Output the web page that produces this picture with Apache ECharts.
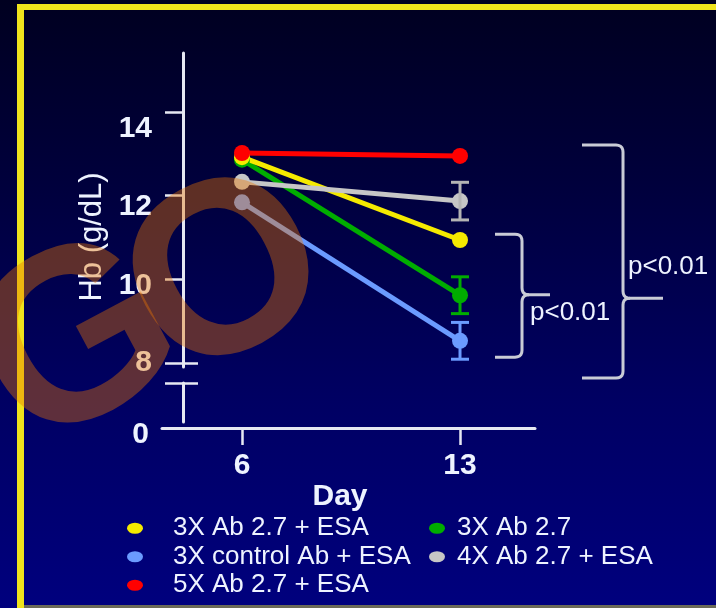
<!DOCTYPE html>
<html>
<head>
<meta charset="utf-8">
<script src="https://cdn.jsdelivr.net/npm/echarts@6/dist/echarts.min.js"></script>
<style>
  html, body { margin: 0; padding: 0; background: #000020; }
  #chart {
    width: 716px; height: 608px;
    background: linear-gradient(to bottom, #000020 0%, #00003c 30%, #000062 65%, #00007e 100%);
  }
</style>
</head>
<body>
<div id="chart"></div>
<script>
// Hb (g/dL) on study day 6 and day 13 for each treatment group
const days = [6, 13];
const groupNames = ['3X Ab 2.7 + ESA', '3X control Ab + ESA', '5X Ab 2.7 + ESA', '3X Ab 2.7', '4X Ab 2.7 + ESA'];
const hbYellow = [12.92, 10.94];   // 3X Ab 2.7 + ESA
const hbBlue   = [11.84, 8.53];    // 3X control Ab + ESA
const hbRed    = [13.02, 12.95];   // 5X Ab 2.7 + ESA
const hbGreen  = [12.86, 9.62];    // 3X Ab 2.7
const hbGray   = [12.33, 11.87];   // 4X Ab 2.7 + ESA
// error bars (day 13 only)
const errBlue  = [0, 0.44];
const errGreen = [0, 0.44];
const errGray  = [0, 0.45];
// axis ticks
const hbTicks = [8, 10, 12, 14];
const hbZeroTick = [0];
const dayTicks = [6, 13];
// significance brackets (Hb span and pointer level)
const bracketTop = [11.08, 13.21];
const bracketBottom = [8.14, 7.64];
const bracketTip = [9.63, 9.55];
const bracketText = ['p<0.01', 'p<0.01'];

const FONT = '"Liberation Sans", Arial, Helvetica, sans-serif';
const TEXT = '#eef3ff';
const AXIS = '#e6e8f2';
const C = { yellow: '#f5ea00', blue: '#6b9bff', red: '#ff0000', green: '#00ad00', gray: '#c6c6c6' };

// axis scale: Hb 8 sits just above the broken lower stub
const yMin = 7.904, yMax = 15.411;
const lowMax = 0.932;
const xMin = 3.431, xMax = 15.408;

// per-label vertical drop of the Hb tick labels
const labelDrop = { 14: 17, 12: 11, 10: 6, 8: 0, 0: 13 };
const tickLabelRich = {};
Object.keys(labelDrop).forEach(k => {
  tickLabelRich['d' + k] = {
    fontSize: 30, fontWeight: 'bold', fontFamily: FONT, color: TEXT,
    padding: [labelDrop[k] * 2, 0, 0, 0]
  };
});
const hbLabel = v => '{d' + v + '|' + v + '}';

function lineSeries(name, values, color) {
  return {
    type: 'line', name, xAxisIndex: 0, yAxisIndex: 0,
    data: days.map((d, i) => [d, values[i]]),
    symbol: 'circle', symbolSize: 16, showSymbol: true,
    lineStyle: { color, width: 5 },
    itemStyle: { color },
    emphasis: { disabled: true },
    animation: false, z: 3
  };
}

function errorSeries(values, err, color) {
  return {
    type: 'custom', xAxisIndex: 0, yAxisIndex: 0,
    data: days.map((d, i) => [d, values[i], err[i]]).filter(r => r[2] > 0),
    renderItem: (params, api) => {
      const x = api.value(0), y = api.value(1), e = api.value(2);
      const hi = api.coord([x, y + e]);
      const lo = api.coord([x, y - e]);
      const w = 9;
      const st = { stroke: color, lineWidth: 3 };
      return {
        type: 'group',
        children: [
          { type: 'line', shape: { x1: hi[0], y1: hi[1], x2: lo[0], y2: lo[1] }, style: st },
          { type: 'line', shape: { x1: hi[0] - w, y1: hi[1], x2: hi[0] + w, y2: hi[1] }, style: st },
          { type: 'line', shape: { x1: lo[0] - w, y1: lo[1], x2: lo[0] + w, y2: lo[1] }, style: st }
        ]
      };
    },
    animation: false, z: 4, silent: true
  };
}

// bracket geometry, in pixels to the right of the day-13 column
const bracketLayout = [
  { arm: 35, bar: 62, tip: 90, textDx: 70, textDy: 18 },
  { arm: 122, bar: 163, tip: 203, textDx: 168, textDy: -31 }
];

function quad(p0, p1, p2, n) {
  const pts = [];
  for (let i = 1; i <= n; i++) {
    const t = i / n, u = 1 - t;
    pts.push([u * u * p0[0] + 2 * u * t * p1[0] + t * t * p2[0],
              u * u * p0[1] + 2 * u * t * p1[1] + t * t * p2[1]]);
  }
  return pts;
}

const bracketSeries = {
  type: 'custom', xAxisIndex: 0, yAxisIndex: 0, clip: false, silent: true,
  data: bracketTop.map((t, i) => [i, t, bracketBottom[i], bracketTip[i]]),
  renderItem: (params, api) => {
    const i = api.value(0);
    const L = bracketLayout[i];
    const base = api.coord([days[1], api.value(1)]);
    const x0 = base[0];
    const y1 = base[1];
    const y2 = api.coord([days[1], api.value(2)])[1];
    const ym = api.coord([days[1], api.value(3)])[1];
    const a = x0 + L.arm, X = x0 + L.bar, t = x0 + L.tip, r = 7;
    const upper = [[a, y1], [X - r, y1]]
      .concat(quad([X - r, y1], [X, y1], [X, y1 + r], 5))
      .concat([[X, ym - r]])
      .concat(quad([X, ym - r], [X, ym], [X + r, ym], 5))
      .concat([[t, ym]]);
    const lower = [[X + r, ym]]
      .concat(quad([X + r, ym], [X, ym], [X, ym + r], 5))
      .concat([[X, y2 - r]])
      .concat(quad([X, y2 - r], [X, y2], [X - r, y2], 5))
      .concat([[a, y2]]);
    const st = { stroke: '#c9cbd6', lineWidth: 3, fill: null };
    return {
      type: 'group',
      children: [
        { type: 'polyline', shape: { points: upper }, style: st },
        { type: 'polyline', shape: { points: lower }, style: st },
        {
          type: 'text', x: x0 + L.textDx, y: ym + L.textDy,
          style: {
            text: bracketText[i], fill: TEXT, font: '26px ' + FONT,
            align: 'left', verticalAlign: 'middle',
            textAlign: 'left', textVerticalAlign: 'middle'
          }
        }
      ]
    };
  },
  animation: false, z: 2
};

const ellipseIcon = 'path://M0 5A5 5 0 1 1 10 5A5 5 0 1 1 0 5Z';
const legendText = { color: TEXT, fontSize: 26, fontFamily: FONT, lineHeight: 28.5 };

// translucent "GO" stamp laid over the plot
const stampStyle = { font: 'bold 245px ' + FONT, fill: 'rgba(236, 118, 0, 0.4)', align: 'center', verticalAlign: 'middle', textAlign: 'center', textVerticalAlign: 'middle' };
const stampTilt = 0.49;

const chart = echarts.init(document.getElementById('chart'), null, { renderer: 'canvas' });

chart.setOption({
  animation: false,
  backgroundColor: 'transparent',
  textStyle: { fontFamily: FONT },
  grid: [
    { left: 162, right: 181, top: 53, bottom: 241, containLabel: false, outerBoundsMode: 'none' },
    { left: 162, right: 181, top: 383, bottom: 186, containLabel: false, outerBoundsMode: 'none' }
  ],
  xAxis: [
    { gridIndex: 0, type: 'value', min: xMin, max: xMax, show: false },
    {
      gridIndex: 1, type: 'value', min: xMin, max: xMax, offset: 6,
      axisLine: { show: true, onZero: false, lineStyle: { color: AXIS, width: 3 } },
      axisTick: { show: true, customValues: dayTicks, length: 17, lineStyle: { color: AXIS, width: 2.5 } },
      axisLabel: {
        customValues: dayTicks, margin: 23, fontSize: 30, fontWeight: 'bold',
        fontFamily: FONT, color: TEXT, lineHeight: 30
      },
      splitLine: { show: false },
      name: 'Day', nameLocation: 'middle', nameGap: 47,
      nameTextStyle: { fontSize: 30, fontWeight: 'bold', fontFamily: FONT, color: TEXT, lineHeight: 30, padding: [0, 17, 0, 0] }
    }
  ],
  yAxis: [
    {
      gridIndex: 0, type: 'value', min: yMin, max: yMax, position: 'left', offset: -21,
      axisLine: { show: true, onZero: false, lineStyle: { color: AXIS, width: 3 } },
      axisTick: { show: true, customValues: hbTicks, length: 18, lineStyle: { color: AXIS, width: 2.5 } },
      axisLabel: { customValues: hbTicks, margin: 31, formatter: hbLabel, rich: tickLabelRich },
      splitLine: { show: false },
      name: 'Hb (g/dL)', nameLocation: 'middle', nameRotate: 90, nameGap: 74,
      nameTextStyle: { fontSize: 31, fontFamily: FONT, color: TEXT, padding: [0, 54, 0, 0] }
    },
    {
      gridIndex: 0, type: 'value', min: yMin, max: yMax, position: 'left', offset: -21,
      axisLine: { show: false },
      axisTick: { show: true, inside: true, customValues: [hbTicks[0]], length: 15, lineStyle: { color: AXIS, width: 2.5 } },
      axisLabel: { show: false },
      splitLine: { show: false }
    },
    {
      gridIndex: 1, type: 'value', min: 0, max: lowMax, position: 'left', offset: -21,
      axisLine: { show: true, onZero: false, lineStyle: { color: AXIS, width: 3 } },
      axisTick: { show: true, customValues: [lowMax], length: 18, lineStyle: { color: AXIS, width: 2.5 } },
      axisLabel: { customValues: hbZeroTick, margin: 34, formatter: hbLabel, rich: tickLabelRich },
      splitLine: { show: false }
    },
    {
      gridIndex: 1, type: 'value', min: 0, max: lowMax, position: 'left', offset: -21,
      axisLine: { show: false },
      axisTick: { show: true, inside: true, customValues: [lowMax], length: 15, lineStyle: { color: AXIS, width: 2.5 } },
      axisLabel: { show: false },
      splitLine: { show: false }
    }
  ],
  legend: [
    {
      data: [groupNames[0], groupNames[1], groupNames[2]],
      orient: 'vertical', left: 127, top: 514, padding: 0, itemGap: 0,
      itemWidth: 16, itemHeight: 11, icon: ellipseIcon, symbolKeepAspect: false, selectedMode: false,
      textStyle: Object.assign({ padding: [0, 0, 0, 25] }, legendText)
    },
    {
      data: [groupNames[3], groupNames[4]],
      orient: 'vertical', left: 429, top: 514, padding: 0, itemGap: 0,
      itemWidth: 16, itemHeight: 11, icon: ellipseIcon, symbolKeepAspect: false, selectedMode: false,
      textStyle: Object.assign({ padding: [0, 0, 0, 7] }, legendText)
    }
  ],
  series: [
    lineSeries(groupNames[1], hbBlue, C.blue),
    lineSeries(groupNames[3], hbGreen, C.green),
    lineSeries(groupNames[0], hbYellow, C.yellow),
    lineSeries(groupNames[4], hbGray, C.gray),
    lineSeries(groupNames[2], hbRed, C.red),
    errorSeries(hbBlue, errBlue, C.blue),
    errorSeries(hbGreen, errGreen, C.green),
    errorSeries(hbGray, errGray, '#b4b4b4'),
    bracketSeries
  ],
  graphic: [
    { type: 'rect', z: 50, silent: true, shape: { x: 17, y: 4, width: 7, height: 604 }, style: { fill: '#efe31c' } },
    { type: 'rect', z: 50, silent: true, shape: { x: 17, y: 4, width: 699, height: 6 }, style: { fill: '#efe31c' } },
    { type: 'rect', z: 50, silent: true, shape: { x: 24, y: 605, width: 692, height: 3 }, style: { fill: '#6c6b58' } },
    { type: 'text', z: 100, silent: true, x: 80, y: 348, rotation: stampTilt, style: Object.assign({ text: 'G' }, stampStyle) },
    { type: 'text', z: 100, silent: true, x: 229, y: 281, rotation: stampTilt, style: Object.assign({ text: 'O' }, stampStyle) }
  ]
});
</script>
</body>
</html>
